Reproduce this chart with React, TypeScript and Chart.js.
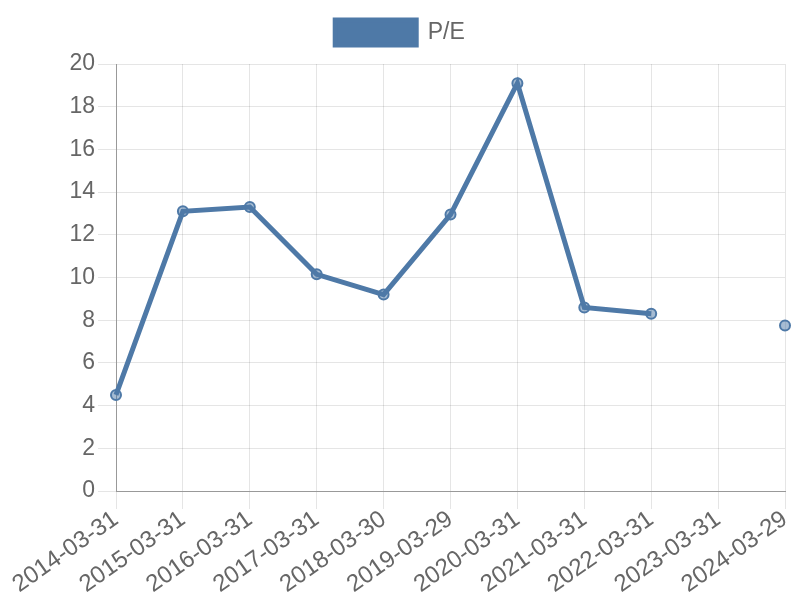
import React, { useEffect, useRef } from "react";
import { Chart, registerables } from "chart.js";

Chart.register(...registerables);

const categories = [
  "2014-03-31", "2015-03-31", "2016-03-31", "2017-03-31", "2018-03-30",
  "2019-03-29", "2020-03-31", "2021-03-31", "2022-03-31", "2023-03-31", "2024-03-29",
];
const peValues: (number | null)[] = [4.5, 13.1, 13.3, 10.15, 9.2, 12.95, 19.1, 8.6, 8.3, null, 7.75];
const seriesLabel = "P/E";

const legendGap = {
  id: "legendGap",
  beforeInit(chart: any) {
    const legend = chart.legend;
    if (!legend) return;
    const origFit = legend.fit;
    legend.fit = function () {
      origFit.call(this);
      this.height += 9;
    };
  },
};

export default function App() {
  const ref = useRef<HTMLCanvasElement>(null);
  useEffect(() => {
    document.body.style.margin = "0";
    const ctx = ref.current!.getContext("2d")!;
    const family = "'Liberation Sans', Arial, sans-serif";
    const chart = new Chart(ctx, {
      type: "line",
      data: {
        labels: categories,
        datasets: [
          {
            label: seriesLabel,
            data: peValues,
            borderColor: "#4e79a7",
            backgroundColor: "#4e79a7",
            borderWidth: 5,
            pointRadius: 5,
            pointBorderWidth: 2,
            pointBackgroundColor: "rgba(78,121,167,0.5)",
            pointBorderColor: "#4e79a7",
            tension: 0,
            spanGaps: false,
          },
        ],
      },
      plugins: [legendGap],
      options: {
        responsive: false,
        animation: false,
        layout: { padding: { top: 1, right: 0, left: 0, bottom: 0 } },
        plugins: {
          legend: {
            labels: { font: { family, size: 23 }, color: "#666", boxWidth: 81, boxHeight: 25, padding: 19 },
          },
          tooltip: { enabled: false },
        },
        scales: {
          x: {
            ticks: { font: { family, size: 24 }, color: "#666", maxRotation: 35, minRotation: 35, padding: -4 },
            grid: { color: "rgba(0,0,0,0.1)", tickLength: 18 },
            border: { color: "#999" },
            afterFit: (s: any) => {
              s.height = 109;
              s.paddingLeft = 0;
              s.paddingRight = 15;
            },
          },
          y: {
            min: 0,
            max: 20,
            ticks: { font: { family, size: 23 }, color: "#666", stepSize: 2 },
            grid: { color: "rgba(0,0,0,0.1)", tickLength: 18 },
            border: { color: "#999" },
            afterFit: (s: any) => {
              s.width = 116;
            },
          },
        },
      },
    });
    return () => chart.destroy();
  }, []);
  return <canvas ref={ref} width={800} height={600} style={{ display: "block" }} />;
}
